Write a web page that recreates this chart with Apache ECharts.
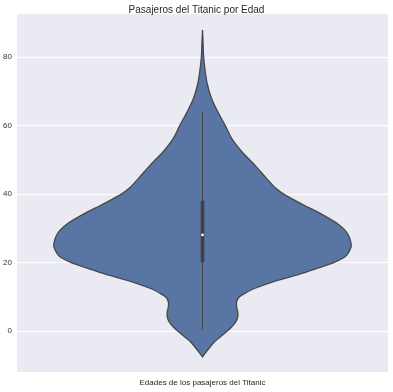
<!DOCTYPE html>
<html><head><meta charset="utf-8">
<script src="https://cdn.jsdelivr.net/npm/echarts@6/dist/echarts.min.js"></script>
<style>html,body{margin:0;padding:0;background:#fff}#c{width:393px;height:392px}</style>
</head><body><div id="c"></div>
<script>
// Violin outline: ages (y) and half-widths (x-axis units, category width = 1)
const ages = [-7.6, -6.0, -3.1, -1.6, -0.2, 1.2, 2.7, 4.1, 5.6, 7.0, 8.5, 9.9, 11.0, 12.3, 14.7, 16.5, 18.1, 20.0, 21.9, 24.8, 28.2, 31.1, 34.0, 36.9, 39.7, 41.7, 44.6, 48.4, 52.3, 56.1, 60.0, 63.8, 67.7, 72.0, 76.0, 80.0, 84.0, 87.8];
const halfWidths = [0, 0.011, 0.033, 0.050, 0.065, 0.079, 0.090, 0.095, 0.095, 0.092, 0.092, 0.099, 0.115, 0.138, 0.200, 0.260, 0.305, 0.355, 0.387, 0.401, 0.392, 0.366, 0.322, 0.270, 0.222, 0.197, 0.172, 0.141, 0.106, 0.079, 0.061, 0.042, 0.025, 0.013, 0.007, 0.003, 0.0015, 0];
// Box statistics: [lower whisker, Q1, median, Q3, upper whisker]
const boxStats = [0.42, 20.125, 28, 38, 64];
const yTicks = [0, 20, 40, 60, 80];

const chart = echarts.init(document.getElementById('c'));
chart.setOption({
  backgroundColor: '#ffffff',
  animation: false,
  title: {
    text: 'Pasajeros del Titanic por Edad', left: 'center', top: 0,
    textStyle: {fontSize: 10, fontWeight: 'normal', color: '#262626', fontFamily: 'Liberation Sans, Arial, sans-serif'}
  },
  grid: {left: 17, right: 5, top: 14, bottom: 16, show: true, backgroundColor: '#EAEAF2', borderWidth: 0},
  xAxis: {
    type: 'value', min: -0.5, max: 0.5,
    name: 'Edades de los pasajeros del Titanic', nameLocation: 'middle', nameGap: 7,
    nameTextStyle: {fontSize: 8, color: '#262626', fontFamily: 'Liberation Sans, Arial, sans-serif'},
    axisLine: {show: false}, axisTick: {show: false}, axisLabel: {show: false}, splitLine: {show: false}
  },
  yAxis: {
    type: 'value', min: -12, max: 92.5,
    axisLine: {show: false},
    axisTick: {show: false, customValues: yTicks},
    axisLabel: {customValues: yTicks, fontSize: 8, color: '#333', margin: 5, fontFamily: 'Liberation Sans, Arial, sans-serif'},
    splitLine: {show: true, lineStyle: {color: '#ffffff', width: 1.2}}
  },
  series: [{
    type: 'custom',
    data: [[0, 0]],
    clip: true,
    renderItem: function (params, api) {
      const left = ages.map((a, i) => api.coord([-halfWidths[i], a]));
      const right = ages.map((a, i) => api.coord([halfWidths[i], a])).reverse();
      const lo = api.coord([0, boxStats[0]]);
      const q1 = api.coord([0, boxStats[1]]);
      const med = api.coord([0, boxStats[2]]);
      const q3 = api.coord([0, boxStats[3]]);
      const hi = api.coord([0, boxStats[4]]);
      return {
        type: 'group',
        children: [
          {type: 'polygon', shape: {points: left.concat(right), smooth: 0.25},
           style: {fill: '#5975A4', stroke: '#474747', lineWidth: 1.3}},
          {type: 'line', shape: {x1: lo[0], y1: lo[1], x2: hi[0], y2: hi[1]},
           style: {stroke: '#474747', lineWidth: 1.1}},
          {type: 'line', shape: {x1: q1[0], y1: q1[1], x2: q3[0], y2: q3[1]},
           style: {stroke: '#414141', lineWidth: 3.6}},
          {type: 'circle', shape: {cx: med[0], cy: med[1], r: 1.4},
           style: {fill: '#ffffff'}}
        ]
      };
    }
  }]
});
</script></body></html>
